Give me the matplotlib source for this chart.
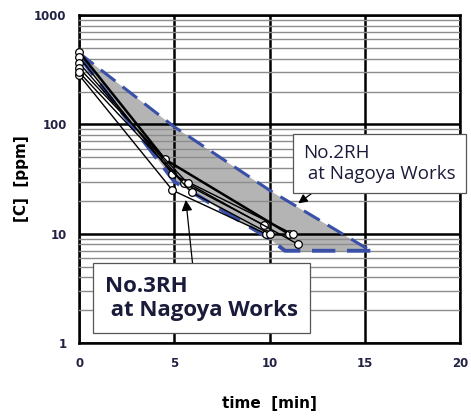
import matplotlib.pyplot as plt
import numpy as np
from matplotlib.ticker import FixedLocator, LogLocator, NullFormatter

# measured heats (No.3RH), time [min] vs [C] [ppm]
heat_t = [
    [0, 4.5, 11.0],
    [0, 4.9, 11.2],
    [0, 5.5, 9.7],
    [0, 5.7, 11.5],
    [0, 4.9, 9.8],
    [0, 5.9, 10.0],
]
heat_c = [
    [460, 48, 10],
    [414, 35, 10],
    [365, 29, 12],
    [328, 29, 8],
    [283, 25, 10],
    [300, 24, 10],
]
heat_lw = [1.8, 1.0, 1.0, 1.0, 1.0, 1.0]

# No.2RH band
band_upper_t = [0, 5, 10, 15.3]
band_upper_c = [450, 95, 25, 7.0]
band_lower_t = [0, 5, 10, 10.8, 15.3]
band_lower_c = [420, 30, 9, 7.0, 7.0]

fig = plt.figure(figsize=(4.71, 4.19), dpi=100)
ax = fig.add_axes([0.168, 0.181, 0.809, 0.783])

ax.set_yscale('log')
ax.set_xlim(0, 20)
ax.set_ylim(1, 1000)

# band
tt = np.linspace(0, 15.3, 200)
up = np.exp(np.interp(tt, band_upper_t, np.log(band_upper_c)))
lo = np.exp(np.interp(tt, band_lower_t, np.log(band_lower_c)))
ax.fill_between(tt, lo, up, color='#b4b4b4', zorder=1, lw=0)
ax.plot(band_upper_t, band_upper_c, color='#3a50a8', lw=2.2, ls=(0, (6, 3)), zorder=4)
ax.plot(band_lower_t, band_lower_c, color='#3a50a8', lw=2.8, ls=(0, (6, 3)), zorder=4)

# grid
ax.yaxis.set_minor_locator(LogLocator(base=10, subs=np.arange(2, 10)))
ax.yaxis.set_minor_formatter(NullFormatter())
ax.grid(True, which='minor', axis='y', color='#8c8c8c', lw=1.0, zorder=2)
ax.grid(True, which='major', axis='both', color='black', lw=1.8, zorder=2)
ax.set_axisbelow(False)

for t, c, lw in zip(heat_t, heat_c, heat_lw):
    ax.plot(t, c, color='black', lw=lw, marker='o', ms=5.5, mfc='white',
            mec='black', mew=0.9, zorder=5, clip_on=False)

ax.xaxis.set_major_locator(FixedLocator([0, 5, 10, 15, 20]))
ax.yaxis.set_major_locator(FixedLocator([1, 10, 100, 1000]))
ax.set_yticklabels(['1', '10', '100', '1000'])
ax.tick_params(which='both', length=0)
ax.tick_params(axis='x', pad=10)
ax.tick_params(axis='y', pad=9)
for lab in ax.get_xticklabels() + ax.get_yticklabels():
    lab.set_fontsize(8.5)
    lab.set_fontweight('bold')
    lab.set_color('#222244')
for s in ax.spines.values():
    s.set_linewidth(1.8)

ax.set_xlabel('time  [min]', fontsize=11, fontweight='bold', va='center')
ax.xaxis.set_label_coords(0.5, -0.183)
ax.set_ylabel('[C]  [ppm]', fontsize=11, fontweight='bold', va='center')
ax.yaxis.set_label_coords(-0.15, 0.5)

ax.annotate('No.2RH\n at Nagoya Works', xy=(11.5, 19), xytext=(11.76, 44),
            fontsize=13.5, family='Open Sans', color='#1a1a3a', va='center', ha='left',
            bbox=dict(boxstyle='square,pad=0.55', fc='white', ec='#555555', lw=0.9),
            arrowprops=dict(arrowstyle='-|>', color='black', lw=0.9,
                            relpos=(0.15, 0.0), shrinkA=0, shrinkB=0), zorder=6)
ax.annotate('No.3RH\n at Nagoya Works', xy=(5.6, 20.4), xytext=(1.36, 2.58),
            fontsize=16, family='Open Sans', fontweight='bold', color='#1a1a3a',
            va='center', ha='left',
            bbox=dict(boxstyle='square,pad=0.55', fc='white', ec='#555555', lw=0.9),
            arrowprops=dict(arrowstyle='-|>', color='black', lw=0.9,
                            relpos=(0.46, 1.0), shrinkA=0, shrinkB=0), zorder=6)

fig.savefig('out.png', dpi=100)
